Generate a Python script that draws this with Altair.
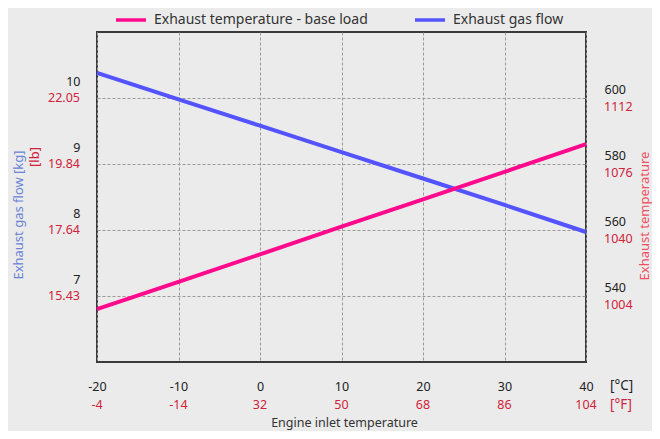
import altair as alt
import pandas as pd

# ---- data ----
inlet_c = [-20, -10, 0, 10, 20, 30, 40]
gas_flow_kg = [10.38, 9.98, 9.58, 9.18, 8.78, 8.38, 7.97]
exhaust_temp_c = [536.0, 544.3, 552.6, 561.0, 569.3, 577.6, 586.0]

x_ticks_c = [-20, -10, 0, 10, 20, 30, 40]
x_ticks_f = ["-4", "-14", "32", "50", "68", "86", "104"]
kg_ticks = [7, 8, 9, 10]
lb_ticks = ["15.43", "17.64", "19.84", "22.05"]
tc_ticks = [540, 560, 580, 600]
tf_ticks = ["1004", "1040", "1076", "1112"]

S_TEMP = "Exhaust temperature - base load"
S_FLOW = "Exhaust gas flow"

PINK = "#ff0a8c"
BLUE = "#5353ff"
RED = "#d0223a"
FONT = "Noto Sans"
W, H = 489, 330
TICK_FS = 12.5

df = pd.DataFrame({"t": inlet_c, "flow": gas_flow_kg, "exh": exhaust_temp_c})
df_lb = pd.DataFrame({"kg": kg_ticks, "lb": lb_ticks})
df_tf = pd.DataFrame({"c": tc_ticks, "f": tf_ticks})
df_xf = pd.DataFrame({"c": x_ticks_c, "f": x_ticks_f})

xscale = alt.Scale(domain=[-20, 40], nice=False, zero=False)
color = alt.Color(
    "series:N",
    scale=alt.Scale(domain=[S_TEMP, S_FLOW], range=[PINK, BLUE]),
    legend=alt.Legend(
        title=None, orient="none", legendX=17, legendY=-29, direction="horizontal",
        symbolType="stroke", symbolSize=900, symbolStrokeWidth=3.5,
        labelFont=FONT, labelFontSize=14, labelColor="#333", labelOffset=6,
        columnPadding=40, labelLimit=400,
    ),
)

xaxis = alt.Axis(
    values=x_ticks_c, grid=True, gridDash=[3, 2], gridColor="#999", gridWidth=1,
    ticks=False, domain=False, labelFont=FONT, labelFontSize=TICK_FS, labelColor="#222",
    labelPadding=18, labelFlush=False, labelExpr="'' + datum.value", title=None,
)

flow_line = alt.Chart(df).transform_calculate(series=f"'{S_FLOW}'").mark_line(
    strokeWidth=4
).encode(
    x=alt.X("t:Q", scale=xscale, axis=xaxis),
    y=alt.Y(
        "flow:Q",
        scale=alt.Scale(domain=[6, 11], nice=False, zero=False),
        axis=alt.Axis(
            values=kg_ticks, grid=True, gridDash=[3, 2], gridColor="#999", gridWidth=1,
            ticks=False, domain=False, labelFont=FONT, labelFontSize=TICK_FS,
            labelColor="#222", labelPadding=17, labelOffset=-17, labelFlush=False,
            labelExpr="'' + datum.value", title=None, orient="left",
        ),
    ),
    color=color,
)

lb_text = alt.Chart(df_lb).mark_text(
    align="right", baseline="middle", font=FONT, fontSize=TICK_FS, color=RED
).encode(x=alt.value(-17), y=alt.Y("kg:Q"), text="lb:N")

left = alt.layer(flow_line, lb_text)

exh_line = alt.Chart(df).transform_calculate(series=f"'{S_TEMP}'").mark_line(
    strokeWidth=4
).encode(
    x=alt.X("t:Q", scale=xscale),
    y=alt.Y(
        "exh:Q",
        scale=alt.Scale(domain=[520, 620], nice=False, zero=False),
        axis=alt.Axis(
            values=tc_ticks, grid=False, ticks=False, domain=False, labelFont=FONT,
            labelFontSize=TICK_FS, labelColor="#222", labelPadding=18, labelOffset=-9,
            labelFlush=False, labelExpr="'' + datum.value", title=None, orient="right",
        ),
    ),
    color=color,
)

tf_text = alt.Chart(df_tf).mark_text(
    align="left", baseline="middle", font=FONT, fontSize=TICK_FS, color=RED, dy=9
).encode(x=alt.value(W + 18), y=alt.Y("c:Q"), text="f:N")

right = alt.layer(exh_line, tf_text)

xf_text = alt.Chart(df_xf).mark_text(
    align="center", baseline="middle", font=FONT, fontSize=TICK_FS, color=RED
).encode(x=alt.X("c:Q", scale=xscale), y=alt.value(373), text="f:N")


def note(text, x, y, col, size=12, angle=0, align="left"):
    return alt.Chart(pd.DataFrame({"label": [text]})).mark_text(
        align=align, baseline="middle", font=FONT, fontSize=size, color=col, angle=angle
    ).encode(x=alt.value(x), y=alt.value(y), text="label:N")


notes = [
    note("[°C]", W + 24, 354, "#222", 13.5),
    note("[°F]", W + 24, 373, RED, 13.5),
    note("Engine inlet temperature", W / 2 + 3, 391, "#333", 12.5, align="center"),
    note("Exhaust gas flow [kg]", -78, 183, "#6a84d6", 13, angle=270, align="center"),
    note("[lb]", -62, 125, RED, 13, angle=270, align="center"),
    note("Exhaust temperature", W + 59, 184, "#ef4f63", 13, angle=270, align="center"),
]

chart = alt.layer(left, right, xf_text, *notes).resolve_scale(y="independent").properties(
    width=W, height=H,
    background="#ebebeb",
    autosize=alt.AutoSizeParams(type="none"),
    padding={"left": 89, "top": 24, "right": 66, "bottom": 69},
).configure_view(stroke="#3a3a3a", strokeWidth=2)

chart.save("out.html", embed_options={"renderer": "svg", "actions": False})
